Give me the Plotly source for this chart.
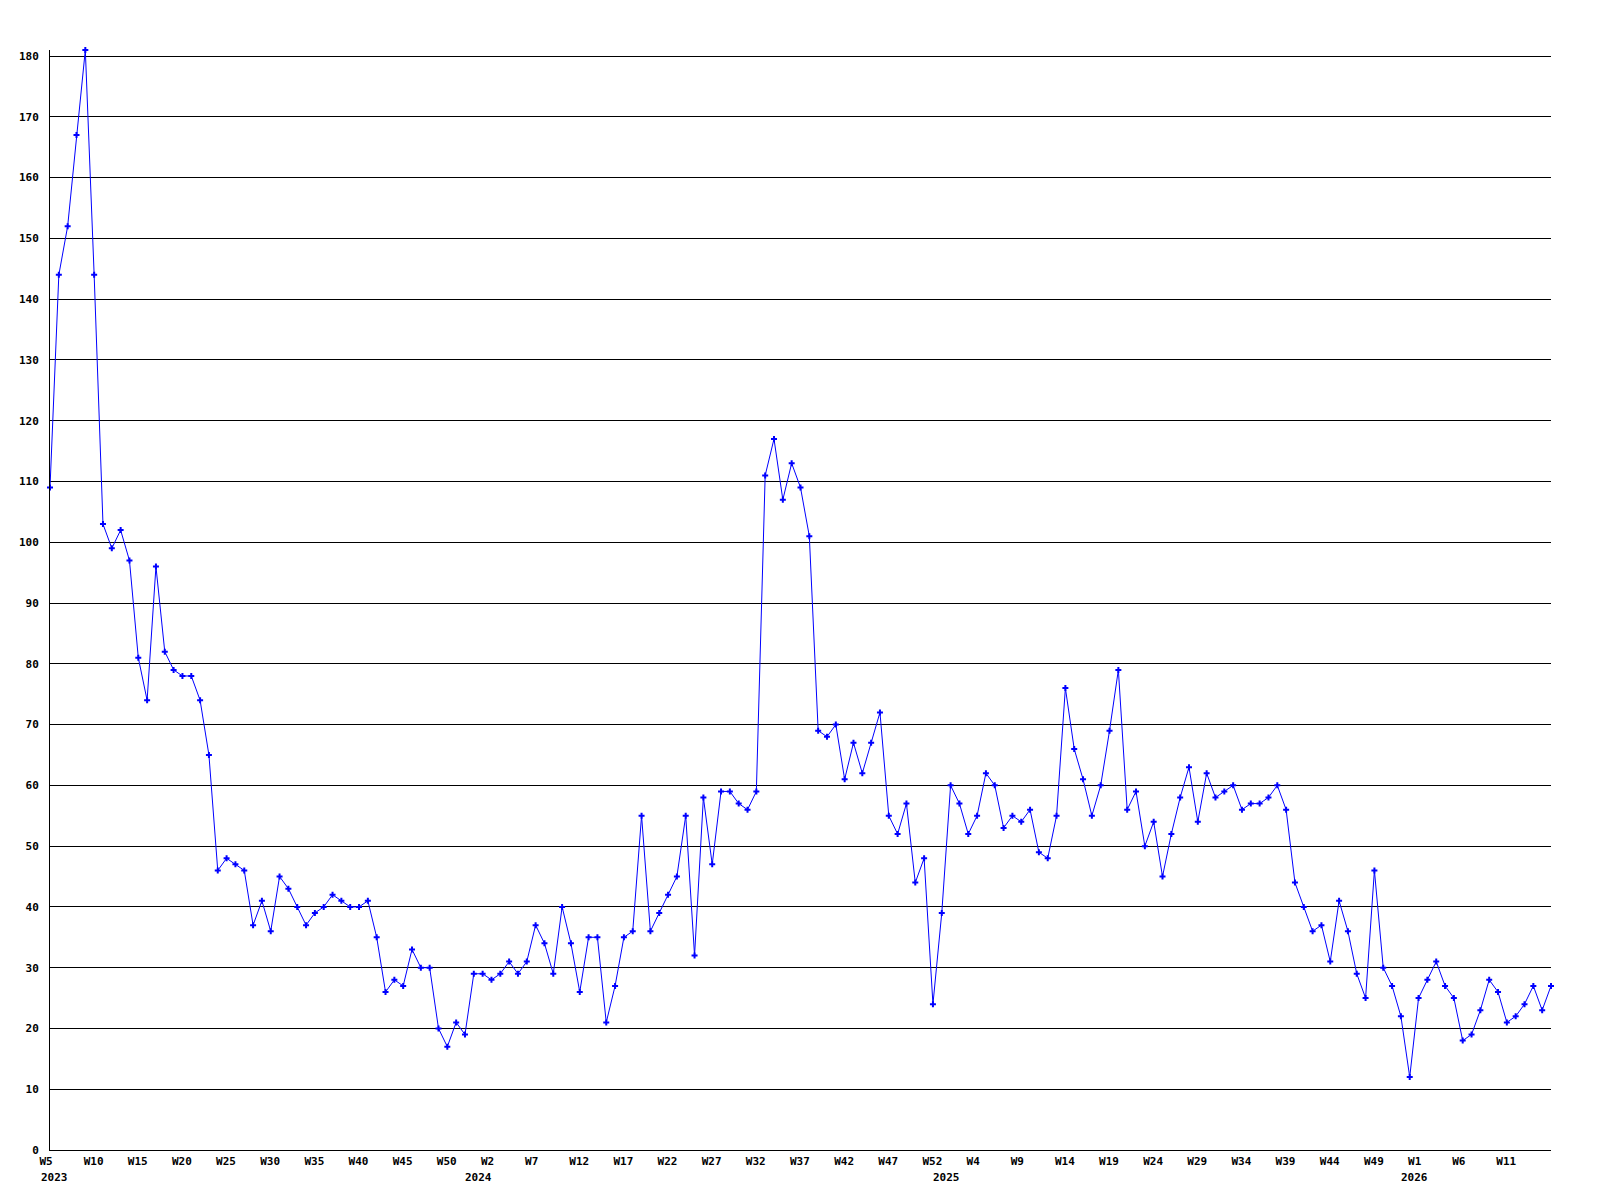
import plotly.graph_objects as go

# Weekly values, 2023 W5 .. 2026 W16 (one value per week)
values = [
    109, 144, 152, 167, 181, 144, 103, 99, 102, 97,
    81, 74, 96, 82, 79, 78, 78, 74, 65, 46,
    48, 47, 46, 37, 41, 36, 45, 43, 40, 37,
    39, 40, 42, 41, 40, 40, 41, 35, 26, 28,
    27, 33, 30, 30, 20, 17, 21, 19, 29, 29,
    28, 29, 31, 29, 31, 37, 34, 29, 40, 34,
    26, 35, 35, 21, 27, 35, 36, 55, 36, 39,
    42, 45, 55, 32, 58, 47, 59, 59, 57, 56,
    59, 111, 117, 107, 113, 109, 101, 69, 68, 70,
    61, 67, 62, 67, 72, 55, 52, 57, 44, 48,
    24, 39, 60, 57, 52, 55, 62, 60, 53, 55,
    54, 56, 49, 48, 55, 76, 66, 61, 55, 60,
    69, 79, 56, 59, 50, 54, 45, 52, 58, 63,
    54, 62, 58, 59, 60, 56, 57, 57, 58, 60,
    56, 44, 40, 36, 37, 31, 41, 36, 29, 25,
    46, 30, 27, 22, 12, 25, 28, 31, 27, 25,
    18, 19, 23, 28, 26, 21, 22, 24, 27, 23,
    27,
]

# Week tick labels (every 5th week)
week_tick_labels = [
    "W5", "W10", "W15", "W20", "W25", "W30", "W35", "W40", "W45", "W50",
    "W2", "W7", "W12", "W17", "W22", "W27", "W32", "W37", "W42", "W47", "W52",
    "W4", "W9", "W14", "W19", "W24", "W29", "W34", "W39", "W44", "W49",
    "W1", "W6", "W11",
]
tick_step = 5

# Year labels and the week index they sit at
year_labels = ["2023", "2024", "2025", "2026"]
year_label_index = [0, 48, 101, 154]

x = list(range(len(values)))
tick_vals = [i * tick_step for i in range(len(week_tick_labels))]

FONT = dict(family="DejaVu Sans Mono", size=11, color="black", weight="bold")

fig = go.Figure()
fig.add_trace(go.Scatter(
    x=x, y=values,
    mode="lines+markers",
    line=dict(color="#0000FF", width=1),
    marker=dict(symbol="cross", size=5, color="#0000FF", line=dict(width=0)),
    cliponaxis=False,
    showlegend=False,
))

for lab, idx in zip(year_labels, year_label_index):
    fig.add_annotation(
        x=idx, xref="x", y=0, yref="paper",
        text=lab, showarrow=False,
        xanchor="left", yanchor="top",
        xshift=-11, yshift=-19,
        font=FONT,
    )

fig.update_layout(
    width=1584, height=1184,
    margin=dict(l=42, r=41, t=42, b=42),
    paper_bgcolor="white", plot_bgcolor="white",
    xaxis=dict(
        range=[0, len(values) - 1],
        tickmode="array", tickvals=tick_vals, ticktext=week_tick_labels,
        ticks="", showgrid=False, zeroline=False,
        showline=True, linecolor="black", linewidth=1,
        tickfont=FONT,
        ticklabelposition="outside right", ticklabelshift=-11,
        ticklabelstandoff=1,
    ),
    yaxis=dict(
        range=[0, 181], tick0=0, dtick=10,
        ticks="", showgrid=True, gridcolor="black", gridwidth=1,
        zeroline=False,
        showline=True, linecolor="black", linewidth=1,
        tickfont=FONT, ticklabelstandoff=8,
    ),
)

fig.write_html("out.html")
